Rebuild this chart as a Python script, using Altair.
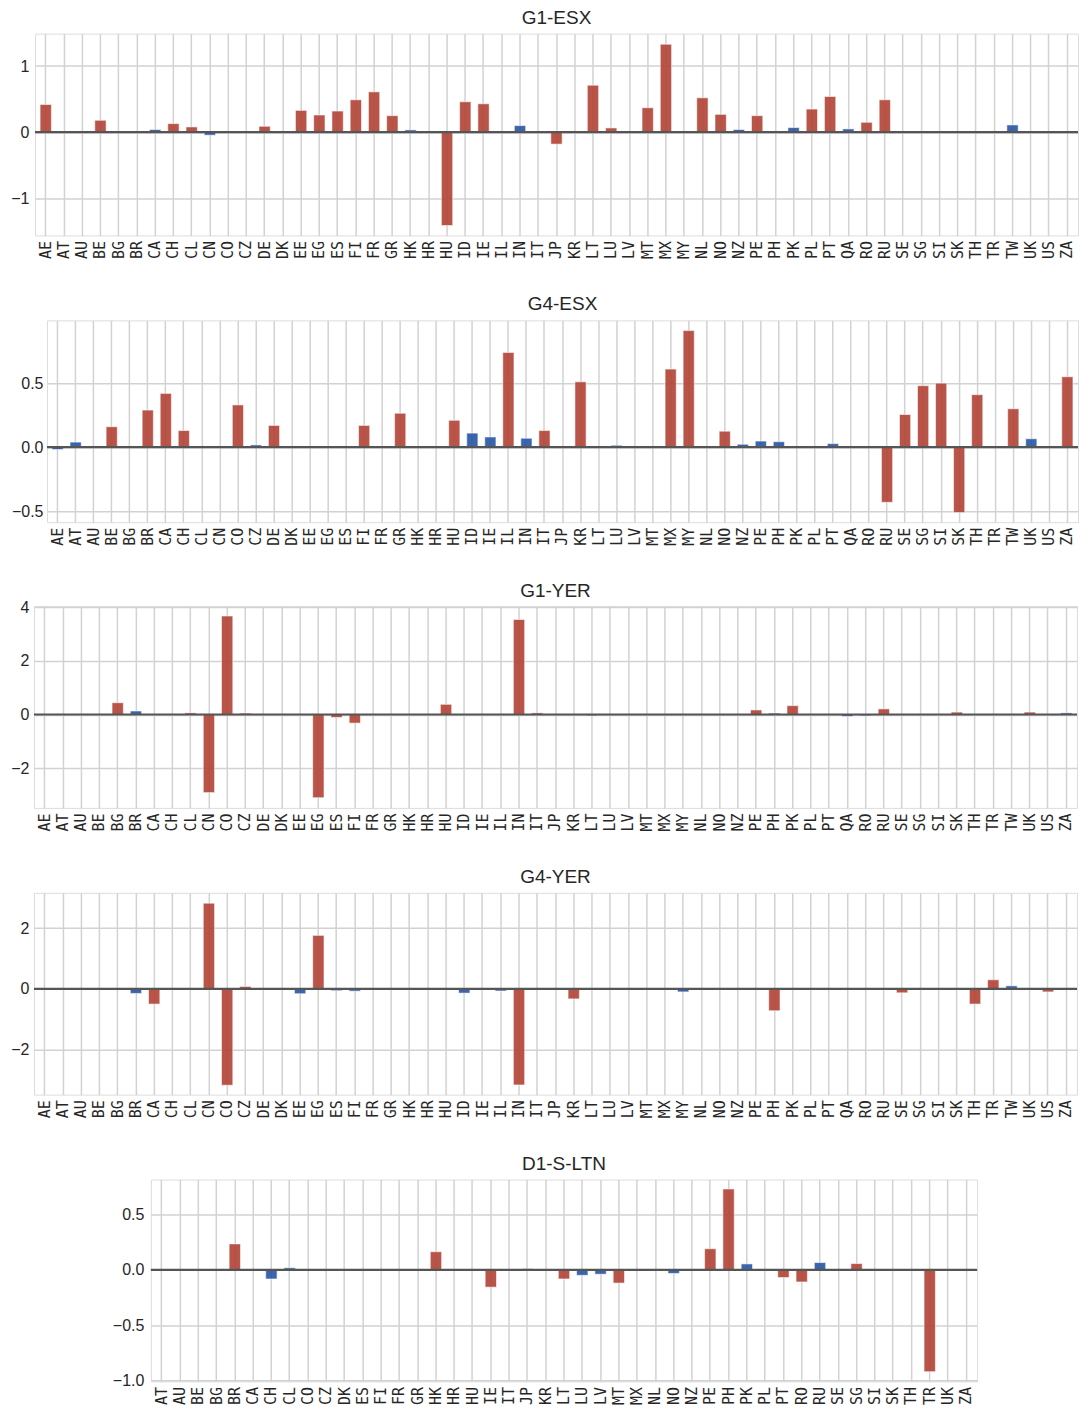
import altair as alt
import pandas as pd

CATS = ["AE", "AT", "AU", "BE", "BG", "BR", "CA", "CH", "CL", "CN",
        "CO", "CZ", "DE", "DK", "EE", "EG", "ES", "FI", "FR", "GR",
        "HK", "HR", "HU", "ID", "IE", "IL", "IN", "IT", "JP", "KR",
        "LT", "LU", "LV", "MT", "MX", "MY", "NL", "NO", "NZ", "PE",
        "PH", "PK", "PL", "PT", "QA", "RO", "RU", "SE", "SG", "SI",
        "SK", "TH", "TR", "TW", "UK", "US", "ZA"]

CATS_LTN = ["AT", "AU", "BE", "BG", "BR", "CA", "CH", "CL", "CO", "CZ",
            "DK", "ES", "FI", "FR", "GR", "HK", "HR", "HU", "IE", "IT",
            "JP", "KR", "LT", "LU", "LV", "MT", "MX", "NL", "NO", "NZ",
            "PE", "PH", "PK", "PL", "PT", "RO", "RU", "SE", "SG", "SI",
            "SK", "TH", "TR", "UK", "ZA"]

# G1-ESX
G1_ESX = [0.42, 0, 0, 0.18, 0, 0.01, 0.04, 0.13, 0.08, -0.045,
          0, 0, 0.09, 0, 0.33, 0.26, 0.32, 0.49, 0.61, 0.25,
          0.035, -0.015, -1.41, 0.46, 0.43, 0, 0.10, 0, -0.18, 0,
          0.71, 0.065, 0, 0.37, 1.33, 0, 0.52, 0.27, 0.04, 0.25,
          0, 0.07, 0.35, 0.54, 0.05, 0.15, 0.49, 0, 0, 0,
          0, 0, 0, 0.11, 0, 0, 0]
G1_ESX_SIG = list("rrrrrrbrrb" "rrrrrrrrrr" "brrrrrbrrr" "rrrrrrrrbr" "rbrrbrrrrr" "rrrbrrr")

# G4-ESX
G4_ESX = [-0.018, 0.04, 0, 0.16, 0, 0.29, 0.42, 0.13, 0, 0,
          0.33, 0.018, 0.17, 0, 0, 0, 0, 0.17, 0, 0.265,
          0, 0, 0.21, 0.11, 0.08, 0.74, 0.07, 0.13, 0, 0.51,
          0, 0.015, 0, 0, 0.61, 0.91, 0, 0.125, 0.023, 0.048,
          0.043, 0, 0, 0.028, 0, 0, -0.43, 0.255, 0.48, 0.50,
          -0.51, 0.41, 0, 0.30, 0.066, 0, 0.55]
G4_ESX_SIG = list("bbrrrrrrrr" "rbrrrrrrrr" "rrrbbrbrrr" "rbrrrrrrbb" "brrbrrrrrr" "rrrrbrr")

# G1-YER
G1_YER = [0, 0, 0, 0, 0.44, 0.13, 0, 0, 0.06, -2.91,
          3.67, 0.05, 0, 0, 0, -3.10, -0.11, -0.32, 0, 0,
          0, 0, 0.38, 0, 0, 0, 3.54, 0.06, 0, 0,
          -0.05, 0, 0, 0, 0.02, 0, 0, 0, 0, 0.17,
          0.05, 0.33, 0, 0, -0.07, -0.05, 0.21, 0, 0, -0.01,
          0.09, 0, 0, 0, 0.09, 0, 0.06]
G1_YER_SIG = list("rrrrrbrrrr" "rrrrrrrrrr" "rrrrrrrrrr" "rrrrbrrrrr" "brrrbbrrrr" "rrrrrrb")

# G4-YER
G4_YER = [0, 0, -0.01, 0, 0, -0.15, -0.50, 0, 0, 2.82,
          -3.17, 0.08, 0, 0, -0.16, 1.76, -0.06, -0.075, 0, 0,
          0, 0, 0, -0.14, 0, -0.07, -3.16, 0, 0, -0.33,
          0, 0, 0, 0, 0, -0.10, 0, 0, 0, 0,
          -0.72, 0, 0, 0, 0, 0, 0, -0.13, 0, 0,
          0, -0.50, 0.30, 0.10, 0, -0.10, 0]
G4_YER_SIG = list("rrbrrbrrrr" "rrrrbrbbrr" "rrrbrbrrrr" "rrrrrbrrrr" "rrrrrrrrrr" "rrrbrrr")

# D1-S-LTN
D1_LTN = [0, 0, 0, 0, 0.234, 0, -0.083, 0.018, 0, 0,
          0, 0, 0, 0, 0, 0.163, 0, 0, -0.157, -0.01,
          0.01, 0, -0.083, -0.05, -0.04, -0.12, 0, 0, -0.033, 0,
          0.19, 0.73, 0.053, 0, -0.07, -0.11, 0.065, 0, 0.056, 0,
          0, 0, -0.92, 0, 0]
D1_LTN_SIG = list("rrrrrrbbrr" "rrrrrrrrrb" "rrrbbrrrbr" "rrbrrrbrrr" "rrrrr")

RED = "#b4463a"
BLUE = "#2b58a8"
TXT = "#262626"
GRID = "#d2d2d2"
H = 202


def panel(title, cats, vals, sig, domain, ticks, fmt, width, lpad, toff=6):
    df = pd.DataFrame({"cat": cats, "val": vals, "sig": sig})
    x = alt.X("cat:N", sort=cats,
              scale=alt.Scale(paddingInner=0.38, paddingOuter=0.28),
              axis=alt.Axis(title=None, grid=True, bandPosition=0.5, ticks=False,
                            domain=False, labelAngle=270, labelFont="DejaVu Sans Mono",
                            labelFontSize=15, labelPadding=5, labelColor=TXT,
                            gridColor=GRID, gridWidth=1.5))
    y = alt.Y("val:Q",
              scale=alt.Scale(domain=domain, nice=False, zero=False),
              axis=alt.Axis(title=None, values=ticks, format=fmt, ticks=False,
                            domain=False, grid=True, gridColor=GRID, gridWidth=1.5,
                            labelFont="Liberation Sans", labelFontSize=16,
                            labelColor=TXT, labelPadding=lpad))
    bars = alt.Chart(df).mark_bar(opacity=0.92, stroke="white", strokeWidth=0.8,
                                  strokeOpacity=0.7).encode(
        x=x, y=y, y2=alt.datum(0),
        color=alt.Color("sig:N", scale=alt.Scale(domain=["r", "b"], range=[RED, BLUE]),
                        legend=None),
    )
    zero = alt.Chart(pd.DataFrame({"z": [0]})).mark_rule(
        color="#555555", strokeWidth=2.2).encode(y=alt.datum(0))
    return alt.layer(bars, zero).properties(
        width=width, height=H,
        title=alt.TitleParams(title, fontSize=19, font="Liberation Sans",
                              fontWeight="normal", color=TXT, anchor="middle",
                              offset=toff, frame="group"),
    )


def spacer(w):
    return alt.Chart(pd.DataFrame({"a": [0]})).mark_point(opacity=0, size=1).encode(
        x=alt.value(0), y=alt.value(0)
    ).properties(width=w, height=H,
                 view=alt.ViewBackground(stroke="transparent", strokeWidth=0))


def row(sp, p):
    return alt.hconcat(spacer(sp), p, spacing=0)


p1 = panel("G1-ESX", CATS, G1_ESX, G1_ESX_SIG, [-1.56, 1.49], [-1, 0, 1], "d", 1044, 6)
p2 = panel("G4-ESX", CATS, G4_ESX, G4_ESX_SIG, [-0.585, 0.99], [-0.5, 0, 0.5], ".1f", 1032, 4)
p3 = panel("G1-YER", CATS, G1_YER, G1_YER_SIG, [-3.48, 4.04], [-2, 0, 2, 4], "d", 1044, 5, -2)
p4 = panel("G4-YER", CATS, G4_YER, G4_YER_SIG, [-3.48, 3.16], [-2, 0, 2], "d", 1044, 5)
p5 = panel("D1-S-LTN", CATS_LTN, D1_LTN, D1_LTN_SIG, [-1.008, 0.815], [-1.0, -0.5, 0, 0.5],
           ".1f", 827, 7)

chart = alt.vconcat(
    row(1, p1), row(1, p2), row(1, p3), row(1, p4), row(102, p5), spacing=35
).properties(
    padding={"left": 0, "top": -1, "right": 0, "bottom": 0}
).configure_view(stroke="#cccccc", strokeWidth=1.5).configure(background="white")

chart.save("out.html", embed_options={"renderer": "svg", "actions": False})
